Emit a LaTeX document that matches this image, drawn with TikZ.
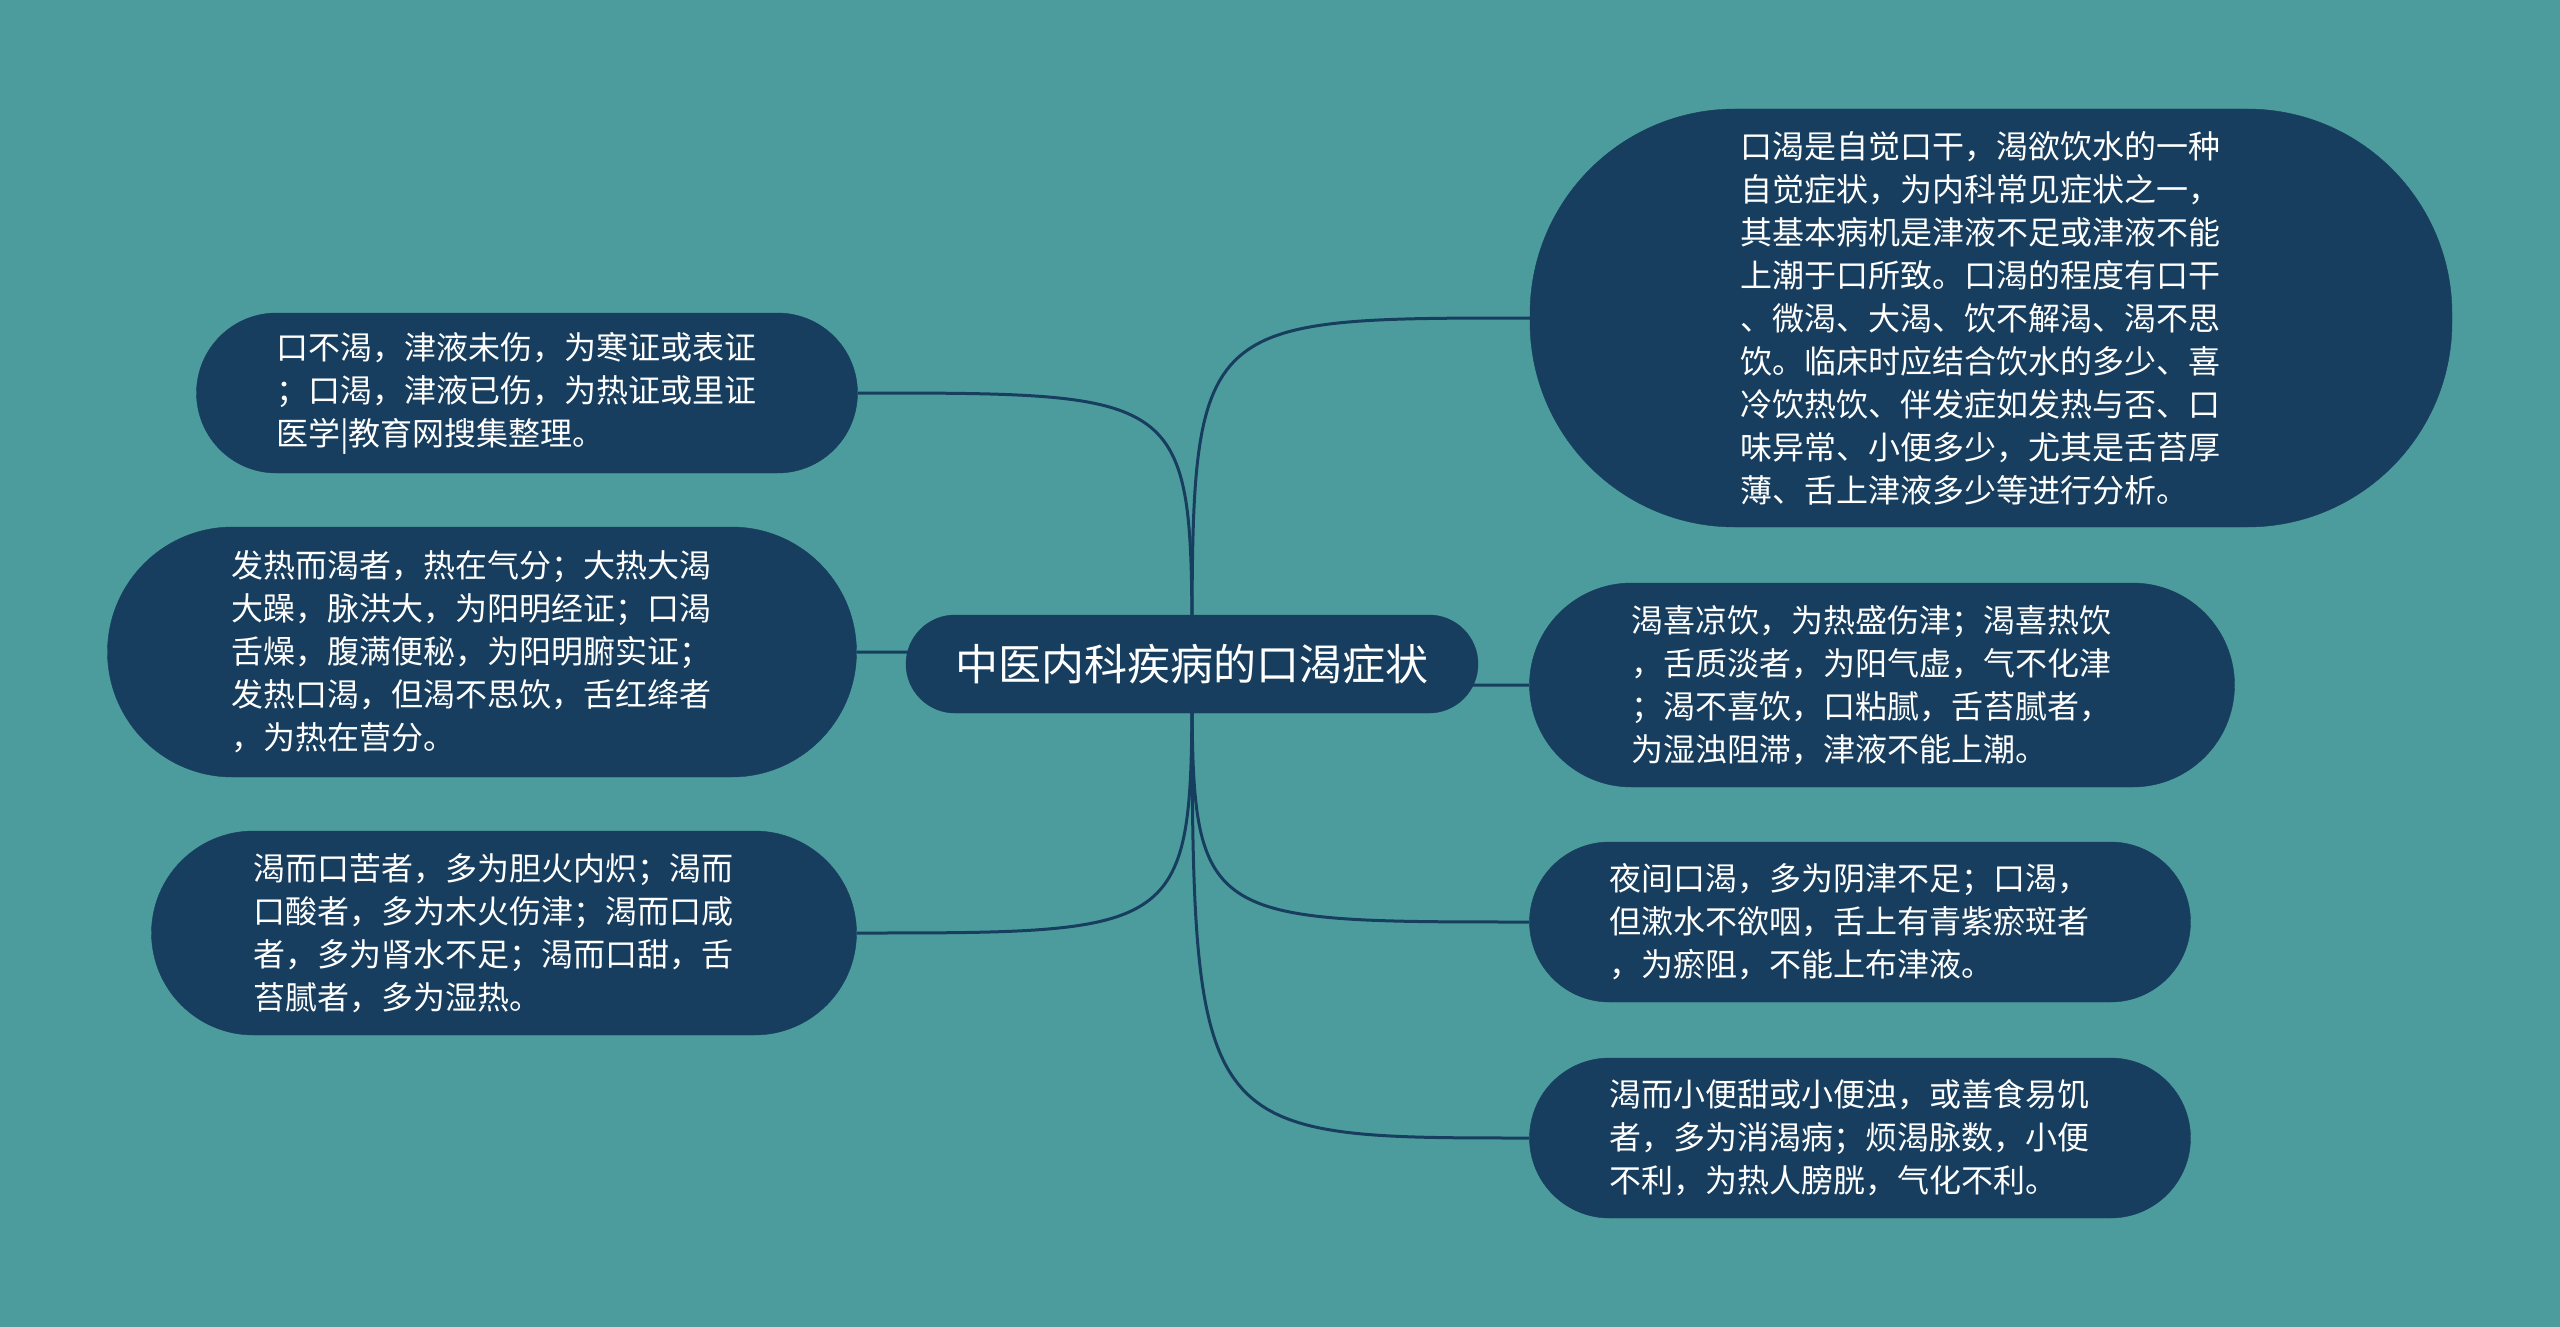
\documentclass[tikz,border=0pt]{standalone}
\usepackage{fontspec}
\newfontfamily\cjk{Noto Sans CJK SC}
\pgfdeclarelayer{bg}
\pgfdeclarelayer{links}
\pgfsetlayers{bg,links,main}
\definecolor{tealbg}{HTML}{4D9C9D}
\definecolor{navybox}{HTML}{173E5E}
\begin{document}
\begin{tikzpicture}[x=1pt,y=-1pt,
  leaf/.style={fill=navybox, draw=navybox, text=white, inner sep=0pt, align=left,
    text width=502pt, font=\cjk\fontsize{32}{43}\selectfont},
  rootbox/.style={fill=navybox, draw=navybox, text=white, inner sep=0pt,
    font=\cjk\fontsize{43}{50}\selectfont},
  link/.style={draw=navybox, line width=3pt}]
\begin{pgfonlayer}{bg}
\fill[tealbg] (0,0) rectangle (2560,1327);
\end{pgfonlayer}
\useasboundingbox (0,0) rectangle (2560,1327);

\node[rootbox, minimum width=572pt, minimum height=98pt, rounded corners=49pt] (c) at (1192,664) {中医内科疾病的口渴症状};

\node[leaf, minimum width=922pt, minimum height=418pt, rounded corners=205pt] (r1) at (1991,318) {口渴是自觉口干，渴欲饮水的一种\\自觉症状，为内科常见症状之一，\\其基本病机是津液不足或津液不能\\上潮于口所致。口渴的程度有口干\\、微渴、大渴、饮不解渴、渴不思\\饮。临床时应结合饮水的多少、喜\\冷饮热饮、伴发症如发热与否、口\\味异常、小便多少，尤其是舌苔厚\\薄、舌上津液多少等进行分析。};

\node[leaf, minimum width=705pt, minimum height=204pt, rounded corners=102pt] (r2) at (1882,685) {渴喜凉饮，为热盛伤津；渴喜热饮\\，舌质淡者，为阳气虚，气不化津\\；渴不喜饮，口粘腻，舌苔腻者，\\为湿浊阻滞，津液不能上潮。};

\node[leaf, minimum width=661pt, minimum height=160pt, rounded corners=80pt] (r3) at (1860,922) {夜间口渴，多为阴津不足；口渴，\\但漱水不欲咽，舌上有青紫瘀斑者\\，为瘀阻，不能上布津液。};

\node[leaf, minimum width=661pt, minimum height=160pt, rounded corners=80pt] (r4) at (1860,1138) {渴而小便甜或小便浊，或善食易饥\\者，多为消渴病；烦渴脉数，小便\\不利，为热人膀胱，气化不利。};

\node[leaf, minimum width=661pt, minimum height=160pt, rounded corners=80pt] (l1) at (527,393) {口不渴，津液未伤，为寒证或表证\\；口渴，津液已伤，为热证或里证\\医学|教育网搜集整理。};

\node[leaf, minimum width=749pt, minimum height=250pt, rounded corners=125pt] (l2) at (482,652) {发热而渴者，热在气分；大热大渴\\大躁，脉洪大，为阳明经证；口渴\\舌燥，腹满便秘，为阳明腑实证；\\发热口渴，但渴不思饮，舌红绛者\\，为热在营分。};

\node[leaf, minimum width=705pt, minimum height=204pt, rounded corners=102pt] (l3) at (504,933) {渴而口苦者，多为胆火内炽；渴而\\口酸者，多为木火伤津；渴而口咸\\者，多为肾水不足；渴而口甜，舌\\苔腻者，多为湿热。};

\begin{pgfonlayer}{links}
\draw[link] (c.center) .. controls (c.center |- r1.west) .. (r1.west);
\draw[link] (c.center) .. controls (c.center |- r2.west) .. (r2.west);
\draw[link] (c.center) .. controls (c.center |- r3.west) .. (r3.west);
\draw[link] (c.center) .. controls (c.center |- r4.west) .. (r4.west);
\draw[link] (c.center) .. controls (c.center |- l1.east) .. (l1.east);
\draw[link] (c.center) .. controls (c.center |- l2.east) .. (l2.east);
\draw[link] (c.center) .. controls (c.center |- l3.east) .. (l3.east);
\end{pgfonlayer}
\end{tikzpicture}
\end{document}
